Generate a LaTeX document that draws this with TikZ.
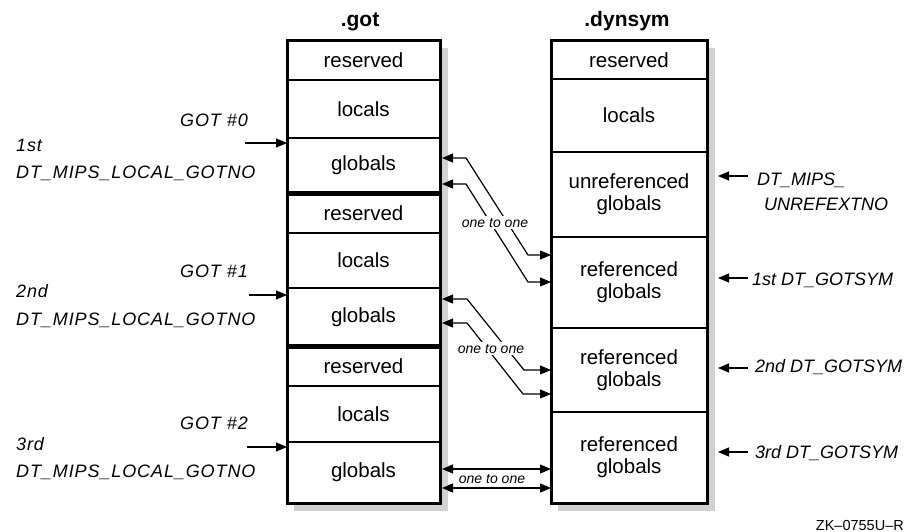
\documentclass[tikz,border=0pt]{standalone}
\usepackage{fontspec}
\setmainfont{Liberation Sans}
\newfontfamily\spacedfont[LetterSpace=5]{Liberation Sans}
\usetikzlibrary{arrows.meta}
\begin{document}
\begin{tikzpicture}[x=1pt,y=-1pt,
  cellbox/.style={draw, line width=1.2pt, outer sep=0pt, inner sep=0pt,
    anchor=north west, align=center, font=\fontsize{20.5}{22}\selectfont},
  gotcell/.style={cellbox, minimum width=153pt},
  symcell/.style={cellbox, minimum width=156pt},
  coltitle/.style={font=\bfseries\fontsize{21}{24}\selectfont, anchor=base, inner sep=0pt},
  lbltext/.style={font=\spacedfont\itshape\fontsize{18}{20}\selectfont, inner sep=0pt},
  symtext/.style={font=\itshape\fontsize{18}{20}\selectfont, inner sep=0pt},
  note/.style={font=\itshape\fontsize{14}{16}\selectfont, anchor=base, inner sep=2pt},
  tipshape/.tip={Triangle[length=11pt,width=9pt]},
  linkline/.style={line width=1.2pt, tipshape-tipshape},
  ptrarrow/.style={line width=1.2pt, -tipshape},
  dropshadow/.style={fill=black!18, draw=none},
]
\useasboundingbox (0,0) rectangle (910,532);

% drop shadows and white column faces
\path[dropshadow] (294,48) rectangle (448,511);
\path[dropshadow] (558,48) rectangle (715,511);
\fill[white] (287,41) rectangle (440,503);
\fill[white] (551,41) rectangle (707,503);

% ---- .got column ----
\node[gotcell, minimum height=39pt] (g0r) at (287,41) {reserved};
\node[gotcell, minimum height=58pt] (g0l) at (g0r.south west) {locals};
\node[gotcell, minimum height=55pt] (g0g) at (g0l.south west) {globals};
\node[gotcell, minimum height=40pt] (g1r) at (g0g.south west) {reserved};
\node[gotcell, minimum height=55pt] (g1l) at (g1r.south west) {locals};
\node[gotcell, minimum height=58pt] (g1g) at (g1l.south west) {globals};
\node[gotcell, minimum height=40pt] (g2r) at (g1g.south west) {reserved};
\node[gotcell, minimum height=56pt] (g2l) at (g2r.south west) {locals};
\node[gotcell, minimum height=61pt] (g2g) at (g2l.south west) {globals};
\draw[line width=3pt] (g0r.north west) rectangle (g2g.south east);
\draw[line width=5pt] (g0g.south west) -- (g0g.south east);
\draw[line width=5pt] (g1g.south west) -- (g1g.south east);

% ---- .dynsym column ----
\node[symcell, minimum height=38pt] (dr) at (551,41) {reserved};
\node[symcell, minimum height=73pt] (dl) at (dr.south west) {locals};
\node[symcell, minimum height=85pt] (du) at (dl.south west) {unreferenced\\globals};
\node[symcell, minimum height=91pt] (d1) at (du.south west) {referenced\\globals};
\node[symcell, minimum height=84pt] (d2) at (d1.south west) {referenced\\globals};
\node[symcell, minimum height=91pt] (d3) at (d2.south west) {referenced\\globals};
\draw[line width=3pt] (dr.north west) rectangle (d3.south east);

% ---- titles ----
\node[coltitle] (gottitle) at (360,27) {.got};
\node[coltitle] (symtitle) at (627,27) {.dynsym};

% ---- left labels ----
\node[lbltext, anchor=base east] (got0) at (248,127) {GOT \#0};
\node[lbltext, anchor=base west] (nth0) at (16,152) {1st};
\node[lbltext, anchor=base west] (lg0) at (16,178) {DT\_MIPS\_LOCAL\_GOTNO};
\coordinate (s0) at (245,143);
\draw[ptrarrow] (s0) -- (g0g.west |- s0);

\node[lbltext, anchor=base east] (got1) at (248,277) {GOT \#1};
\node[lbltext, anchor=base west] (nth1) at (16,297) {2nd};
\node[lbltext, anchor=base west] (lg1) at (16,325) {DT\_MIPS\_LOCAL\_GOTNO};
\coordinate (s1) at (249,295);
\draw[ptrarrow] (s1) -- (g1g.west |- s1);

\node[lbltext, anchor=base east] (got2) at (248,429) {GOT \#2};
\node[lbltext, anchor=base west] (nth2) at (16,450) {3rd};
\node[lbltext, anchor=base west] (lg2) at (16,477) {DT\_MIPS\_LOCAL\_GOTNO};
\coordinate (s2) at (247,447);
\draw[ptrarrow] (s2) -- (g2g.west |- s2);

% ---- right labels ----
\coordinate (r0) at (748,176);
\draw[ptrarrow, shorten >=11pt] (r0) -- (du.east |- r0);
\node[symtext, anchor=base west] (unref1) at (757,185) {DT\_MIPS\_};
\node[symtext, anchor=base west] (unref2) at (764,210) {UNREFEXTNO};

\coordinate (r1) at (748,278);
\draw[ptrarrow, shorten >=11pt] (r1) -- (d1.east |- r1);
\node[symtext, anchor=base west] (sym1) at (752,285) {1st DT\_GOTSYM};

\coordinate (r2) at (748,368);
\draw[ptrarrow, shorten >=11pt] (r2) -- (d2.east |- r2);
\node[symtext, anchor=base west] (sym2) at (755,372) {2nd DT\_GOTSYM};

\coordinate (r3) at (748,452);
\draw[ptrarrow, shorten >=11pt] (r3) -- (d3.east |- r3);
\node[symtext, anchor=base west] (sym3) at (755,458) {3rd DT\_GOTSYM};

% ---- one-to-one links ----
\coordinate (k1a) at (466,158); \coordinate (k1b) at (528,255);
\coordinate (k2a) at (466,184); \coordinate (k2b) at (528,282);
\draw[linkline, shorten <=2pt] (g0g.east |- k1a) -- (k1a) -- (k1b) -- (d1.west |- k1b);
\draw[linkline, shorten <=2pt] (g0g.east |- k2a) -- (k2a) -- (k2b) -- (d1.west |- k2b);
\node[note, fill=white] (n1) at (495,227) {one to one};

\coordinate (k3a) at (467,299); \coordinate (k3b) at (524,370);
\coordinate (k4a) at (467,323); \coordinate (k4b) at (523,394);
\draw[linkline, shorten <=2pt] (g1g.east |- k3a) -- (k3a) -- (k3b) -- (d2.west |- k3b);
\draw[linkline, shorten <=2pt] (g1g.east |- k4a) -- (k4a) -- (k4b) -- (d2.west |- k4b);
\node[note, fill=white] (n2) at (491,353) {one to one};

\coordinate (k5) at (495,469);
\coordinate (k6) at (495,488);
\draw[linkline, shorten <=2pt] (g2g.east |- k5) -- (d3.west |- k5);
\draw[linkline, shorten <=2pt] (g2g.east |- k6) -- (d3.west |- k6);
\node[note] (n3) at (492,483) {one to one};

% ---- figure code ----
\node[font=\fontsize{14.5}{16}\selectfont, anchor=base east, inner sep=0pt] (figcode) at (904,530) {ZK--0755U--R};
\end{tikzpicture}
\end{document}
